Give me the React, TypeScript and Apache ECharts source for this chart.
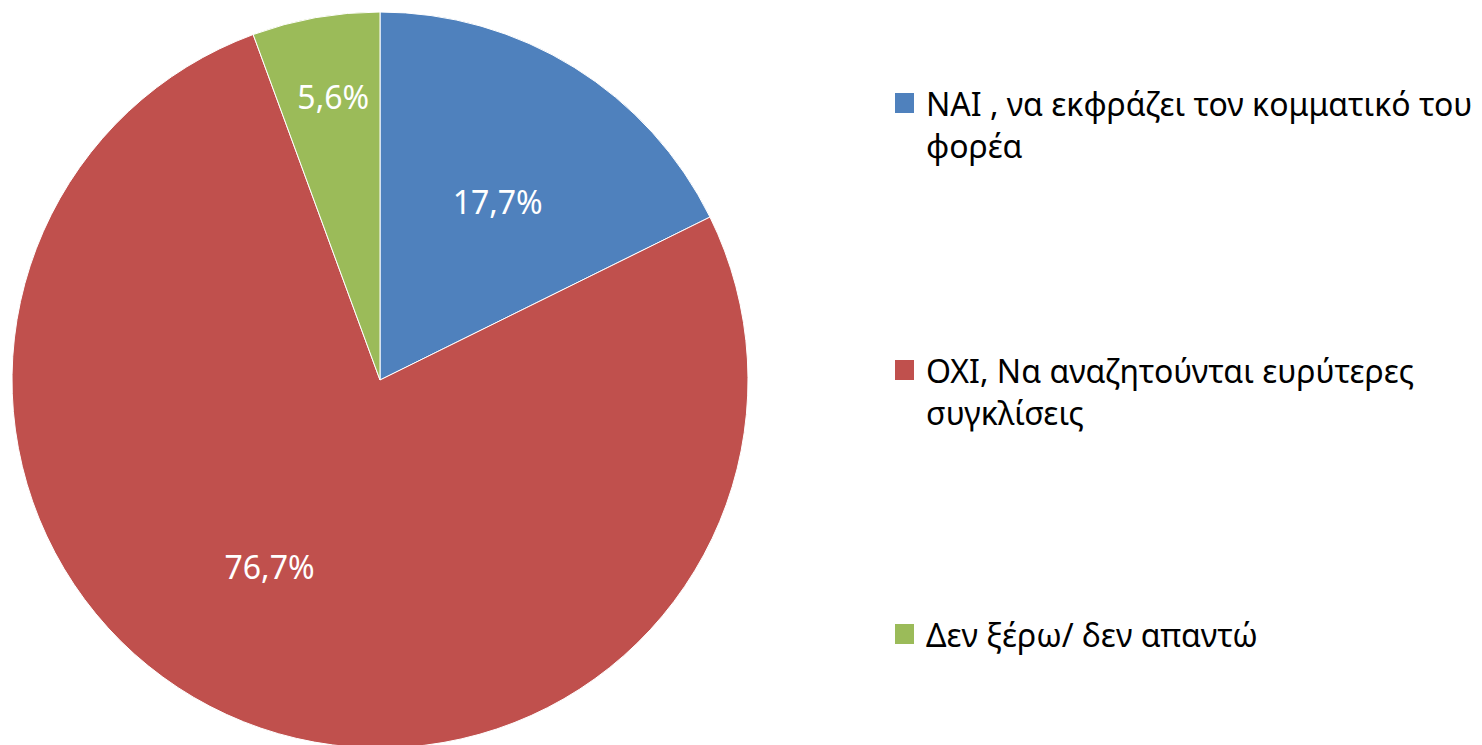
import React, { useEffect, useRef } from "react";
import * as echarts from "echarts";

const categories = [
  "NAI , να εκφράζει τον κομματικό του\nφορέα",
  "ΟΧΙ, Να αναζητούνται ευρύτερες\nσυγκλίσεις",
  "Δεν ξέρω/ δεν απαντώ",
];
const values = [17.7, 76.7, 5.6];
const colors = ["#4F81BD", "#C0504D", "#9BBB59"];

// layout constants (not data)
const CX = 380;
const CY = 380;
const R = 368;
const labelRadiusFactor = [0.58, 0.59, 0.78];
const labelAngleShift = [1.6, 8.8, 0.7];
const legendTops = [82, 349, 613];
const legendX = 895;
const legendTextX = 926;
const FONT = "'Noto Sans', 'DejaVu Sans', sans-serif";

export default function App() {
  const ref = useRef<HTMLDivElement>(null);

  useEffect(() => {
    document.body.style.margin = "0";
    if (!ref.current) return;
    const chart = echarts.init(ref.current, undefined, { renderer: "svg" });
    const total = values.reduce((a, b) => a + b, 0);

    const legendGraphics: any[] = [];
    categories.forEach((name, i) => {
      legendGraphics.push({
        type: "rect",
        shape: { x: legendX, y: legendTops[i] + 11, width: 19, height: 20 },
        style: { fill: colors[i] },
      });
      legendGraphics.push({
        type: "text",
        x: legendTextX,
        y: legendTops[i],
        style: {
          text: name,
          fill: "#000",
          fontSize: 32,
          fontFamily: FONT,
          lineHeight: 42,
          verticalAlign: "top",
          align: "left",
        },
      });
    });

    chart.setOption({
      animation: false,
      backgroundColor: "#ffffff",
      series: [
        {
          type: "pie",
          center: [CX, CY],
          radius: R,
          startAngle: 90,
          clockwise: true,
          silent: true,
          data: categories.map((name, i) => ({
            name: name.replace("\n", " "),
            value: values[i],
            itemStyle: { color: colors[i] },
          })),
          itemStyle: { borderColor: "#ffffff", borderWidth: 1 },
          label: {
            show: true,
            position: "inside",
            color: "#ffffff",
            fontSize: 32,
            fontFamily: FONT,
            formatter: (p: any) => p.value.toFixed(1).replace(".", ",") + "%",
          },
          labelLine: { show: false },
          labelLayout: (p: any) => {
            const i = p.dataIndex;
            const before = values.slice(0, i).reduce((a, b) => a + b, 0);
            const mid = ((before + values[i] / 2) / total) * 360 + labelAngleShift[i];
            const rad = (mid * Math.PI) / 180;
            const r = R * labelRadiusFactor[i];
            return {
              x: CX + r * Math.sin(rad),
              y: CY - r * Math.cos(rad),
              align: "center",
              verticalAlign: "middle",
            };
          },
        },
      ],
      graphic: legendGraphics,
    });

    return () => chart.dispose();
  }, []);

  return (
    <div
      ref={ref}
      style={{ position: "absolute", left: 0, top: 0, width: 1482, height: 745 }}
    />
  );
}
